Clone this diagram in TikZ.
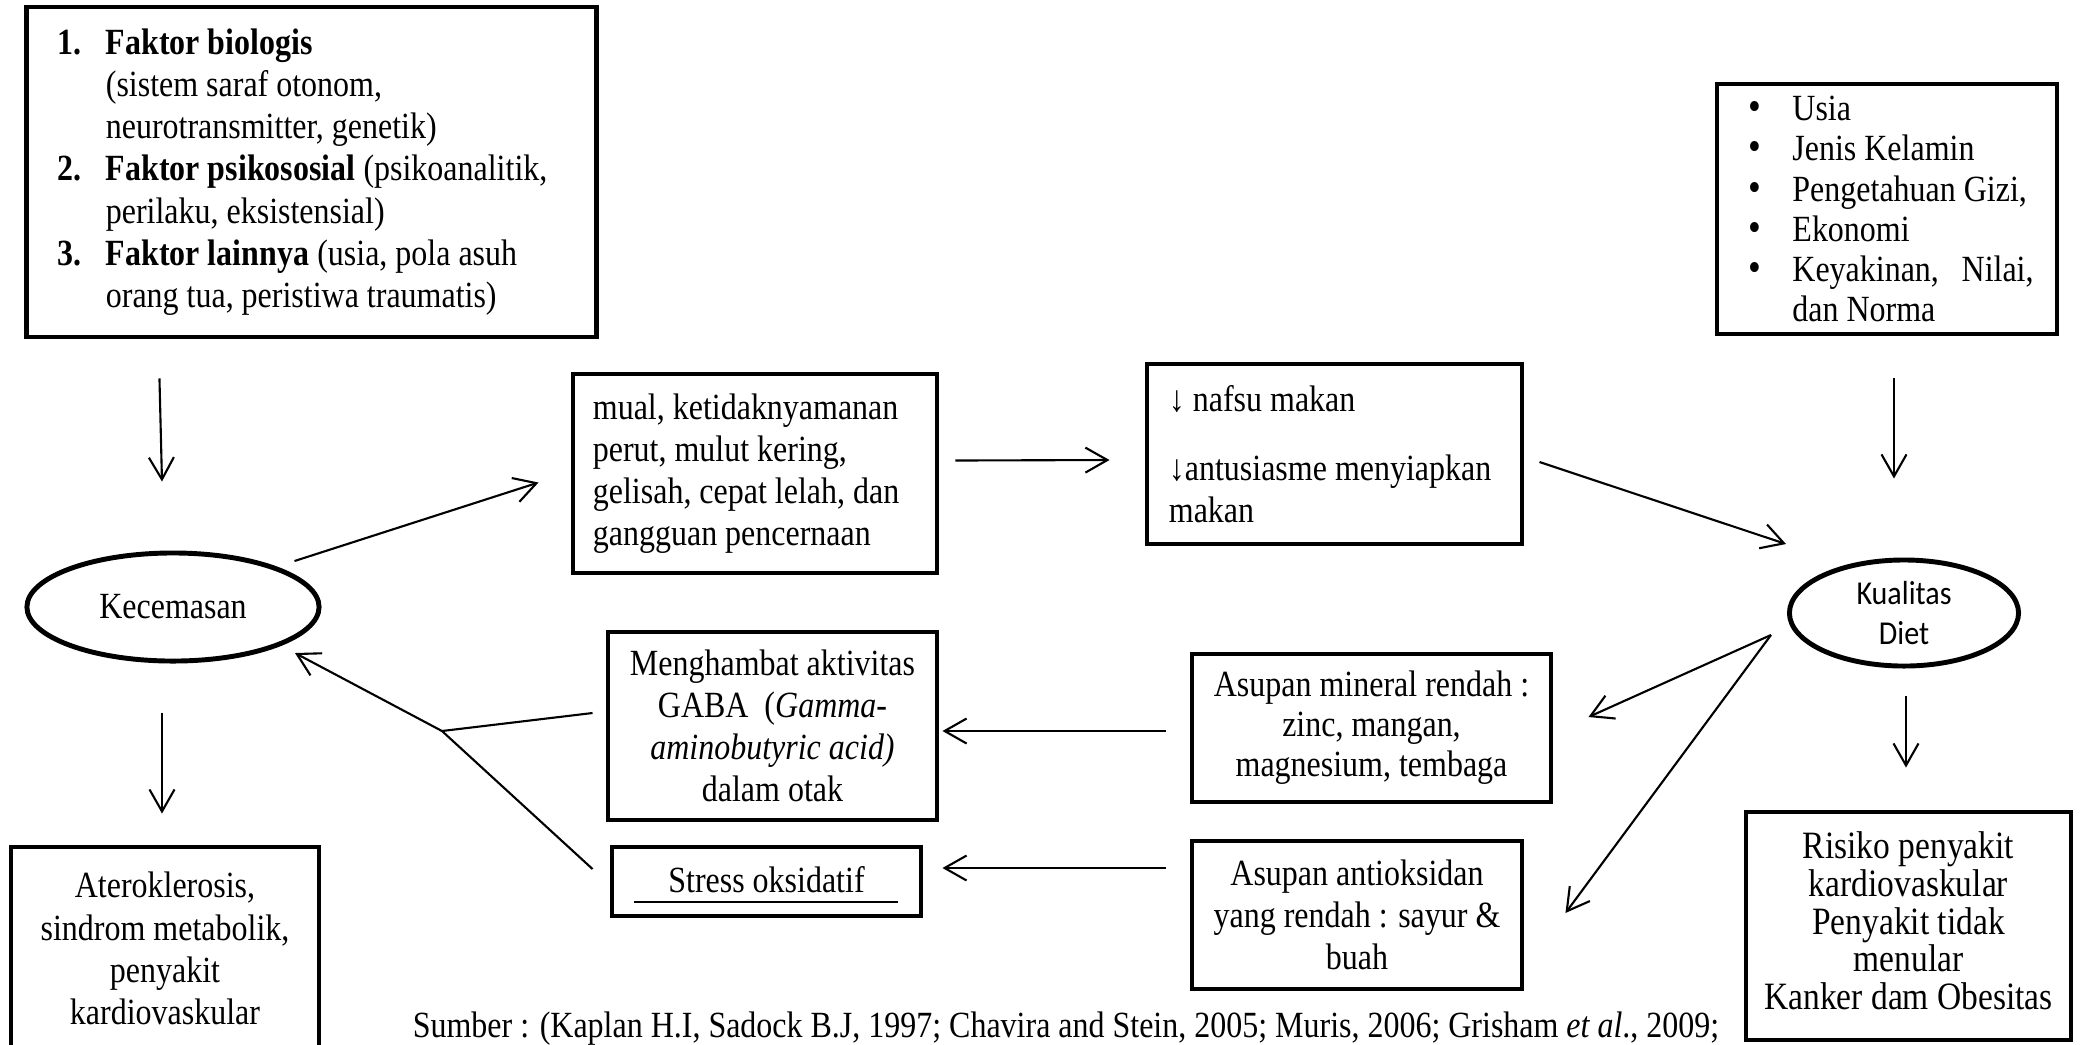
\documentclass[tikz,border=0pt]{standalone}
\usepackage{fontspec}
\setmainfont{Liberation Serif}[FakeStretch=0.866]
\newfontfamily\calibrifont{Carlito}[FakeStretch=0.9]
\usetikzlibrary{arrows.meta, shapes.geometric, calc}
\tikzset{
  every picture/.style={line width=0.6pt},
  box/.style={draw, line width=1.35pt, align=center, inner sep=0pt},
  lbox/.style={box, align=left, execute at begin node={\spaceskip=0pt\xspaceskip=0pt\relax}},
  oval/.style={ellipse, draw, line width=1.4pt, align=center, inner sep=0pt},
  arrow/.style={-{Straight Barb[length=2.2mm, width=2.5mm]}, line width=0.6pt},
  tight/.style={font=\fontsize{10.5pt}{11.4pt}\selectfont},
}
\newcommand{\itm}{\makebox[0.52cm][l]{\hspace{0.08cm}{\large\textbullet}}}

\begin{document}
\begin{tikzpicture}[x=0.01cm, y=-0.01cm, font=\fontsize{10.5pt}{12pt}\selectfont]
  \useasboundingbox (0,0) rectangle (2081,1044);
  % left column
  \node[lbox, minimum width=5.69cm, minimum height=3.30cm, text width=5.07cm] (factors) at (311.5,172)
    {\makebox[0.48cm][l]{\textbf{1.}}\textbf{Faktor biologis}\\
     \hspace*{0.48cm}(sistem saraf otonom,\\
     \hspace*{0.48cm}neurotransmitter, genetik)\\
     \makebox[0.48cm][l]{\textbf{2.}}\textbf{Faktor psikososial} (psikoanalitik,\\
     \hspace*{0.48cm}perilaku, eksistensial)\\
     \makebox[0.48cm][l]{\textbf{3.}}\textbf{Faktor lainnya} (usia, pola asuh\\
     \hspace*{0.48cm}orang tua, peristiwa traumatis)};
  \node[oval, minimum width=2.92cm, minimum height=1.08cm] (kec) at (173,607) {Kecemasan};
  \node[box, minimum width=3.08cm, minimum height=2.03cm] (atero) at (165,948.5)
    {Ateroklerosis,\\sindrom metabolik,\\penyakit\\kardiovaskular};
  % middle column
  \node[lbox, minimum width=3.64cm, minimum height=1.99cm, text width=3.24cm] (mual) at (755,473.5)
    {mual, ketidaknyamanan\\perut, mulut kering,\\gelisah, cepat lelah, dan\\gangguan pencernaan};
  \node[lbox, minimum width=3.75cm, minimum height=1.80cm, text width=3.31cm] (nafsu) at (1334.5,454)
    {↓ nafsu makan\\[0.27cm]↓antusiasme menyiapkan\\makan};
  \node[box, minimum width=3.29cm, minimum height=1.88cm] (gaba) at (772.5,726)
    {Menghambat aktivitas\\GABA\ \ (\textit{Gamma-}\\\textit{aminobutyric acid)}\\dalam otak};
  \node[box, minimum width=3.09cm, minimum height=0.69cm] (stress) at (766.5,881.5)
    {\raisebox{0.04cm}{Stress oksidatif}};
  \draw[line width=0.4pt] ($(stress.center)+(-132.5,20.5)$) -- ++(264,0);
  \node[box, tight, minimum width=3.59cm, minimum height=1.48cm] (mineral) at (1371.5,728)
    {Asupan mineral rendah :\\zinc, mangan,\\magnesium, tembaga};
  \node[box, minimum width=3.30cm, minimum height=1.48cm] (antiox) at (1357,915)
    {Asupan antioksidan\\yang rendah : sayur \&\\buah};
  % right column
  \node[lbox, tight, minimum width=3.40cm, minimum height=2.50cm, text width=2.93cm] (usia) at (1887,209)
    {\itm Usia\\
     \itm Jenis Kelamin\\
     \itm Pengetahuan Gizi,\\
     \itm Ekonomi\\
     \itm\makebox[2.41cm][s]{Keyakinan,\ \ Nilai,}\\
     \hspace*{0.52cm}dan Norma};
  \node[oval, minimum width=2.29cm, minimum height=1.06cm, font=\calibrifont\fontsize{9.5pt}{11.5pt}\selectfont] (kual) at (1904,613)
    {Kualitas\\Diet};
  \node[box, minimum width=3.25cm, minimum height=2.28cm, font=\fontsize{11pt}{10.3pt}\selectfont] (risiko) at (1908.5,926)
    {\raisebox{0.09cm}{\begin{tabular}{@{}c@{}}Risiko penyakit\\kardiovaskular\\Penyakit tidak\\menular\\Kanker dam Obesitas\end{tabular}}};
  \node[anchor=base west] (sumber) at (400,1037)
    {Sumber : (Kaplan H.I, Sadock B.J, 1997; Chavira and Stein, 2005; Muris, 2006; Grisham \textit{et al}., 2009;};
  % connectors
  \draw[arrow] ($(factors.south west)+(135,39)$) -- ($(kec.north)+(-11,-69)$);
  \draw[arrow] ($(kec.south)+(-11,49)$) -- ($(atero.north)+(-3,-31)$);
  \draw[arrow] ($(kec.east)+(-27,-46)$) -- ($(mual.west)+(-32,9)$);
  \draw[arrow] ($(mual.east)+(16,-13)$) -- ($(nafsu.west)+(-35,6)$);
  \draw[arrow] ($(nafsu.east)+(15,8)$) -- ($(kual.center)+(-118,-69)$);
  \draw[arrow] ($(usia.south)+(7,42)$) -- ($(kual.north)+(-10,-79)$);
  \draw[arrow] ($(kual.south)+(2,27)$) -- ($(risiko.north)+(-2.5,-42)$);
  \coordinate (kstart) at ($(kual.west)+(-16,22)$);
  \draw[arrow] (kstart) -- ($(mineral.east)+(35,-11)$);
  \draw[arrow] (kstart) -- ($(antiox.east)+(41,-2)$);
  \draw[arrow] ($(mineral.west)+(-24,3)$) -- ($(gaba.east)+(3,5)$);
  \draw[arrow] ($(antiox.west)+(-24,-47)$) -- ($(stress.east)+(19,-13.5)$);
  \coordinate (joint) at (442,731);
  \draw ($(gaba.west)+(-13,-13)$) -- (joint) -- ($(stress.west)+(-17,-12.5)$);
  \draw[arrow] (joint) -- ($(kec.center)+(122,46)$);
\end{tikzpicture}
\end{document}
